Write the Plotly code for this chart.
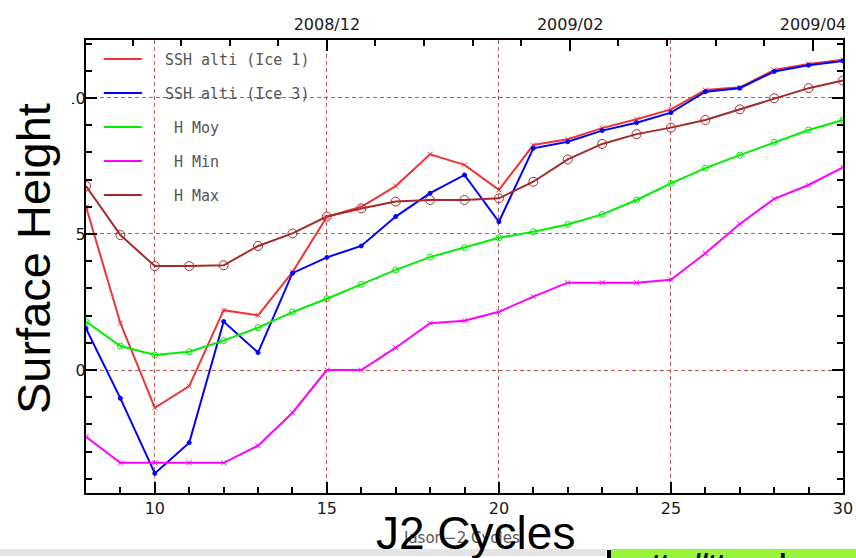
import plotly.graph_objects as go

cycles = list(range(8, 31))
ssh_ice1 = [6.0, 1.72, -1.39, -0.59, 2.2, 2.01, 3.6, 5.63, 6.0, 6.76, 7.93, 7.54, 6.62,
            8.27, 8.48, 8.89, 9.22, 9.58, 10.29, 10.39, 11.03, 11.25, 11.40]
ssh_ice3 = [1.53, -1.04, -3.80, -2.67, 1.78, 0.64, 3.56, 4.14, 4.56, 5.64, 6.5, 7.17, 5.45,
            8.15, 8.39, 8.8, 9.09, 9.46, 10.23, 10.36, 10.97, 11.2, 11.36]
h_moy = [1.78, 0.88, 0.55, 0.67, 1.08, 1.56, 2.13, 2.62, 3.15, 3.68, 4.15, 4.5, 4.86,
         5.08, 5.35, 5.72, 6.25, 6.86, 7.42, 7.9, 8.37, 8.82, 9.19]
h_min = [-2.45, -3.41, -3.41, -3.41, -3.41, -2.78, -1.57, 0.0, 0.0, 0.82, 1.72, 1.81, 2.14,
         2.7, 3.21, 3.21, 3.21, 3.32, 4.29, 5.37, 6.29, 6.8, 7.45]
h_max = [6.76, 4.96, 3.82, 3.82, 3.85, 4.56, 5.02, 5.64, 5.94, 6.19, 6.25, 6.25, 6.31,
         6.92, 7.74, 8.31, 8.67, 8.91, 9.19, 9.58, 9.99, 10.36, 10.64]

NB = "\u00a0"
series_names = [NB * 2 + "SSH alti (Ice 1)", NB * 2 + "SSH alti (Ice 3)",
                NB * 3 + "H Moy", NB * 3 + "H Min", NB * 3 + "H Max"]
series_values = [ssh_ice1, ssh_ice3, h_moy, h_min, h_max]
series_colors = ["#ee3535", "#0000ff", "#00ee00", "#ff00ff", "#a52a2a"]
marker_symbols = ["x-thin", "circle", "circle-open", "x-thin", "circle-open"]
marker_sizes = [5, 4, 6, 5, 9]

y_tickvals = [0, 5, 10]
y_ticktext = ["0", "5", "10"]
top_tickvals = [15, 22.07, 29.13]
top_ticktext = ["2008/12", "2009/02", "2009/04"]

fig = go.Figure()
for name, vals, col, sym, sz in zip(series_names, series_values, series_colors,
                                     marker_symbols, marker_sizes):
    fig.add_trace(go.Scatter(
        x=cycles, y=vals, mode="lines", name=name, legendgroup=name,
        line=dict(color=col, width=2), xaxis="x", yaxis="y"))
    fig.add_trace(go.Scatter(
        x=cycles, y=vals, mode="markers", showlegend=False, legendgroup=name,
        marker=dict(symbol=sym, size=sz, color=col,
                    line=dict(color=col, width=1)),
        xaxis="x2", yaxis="y"))

axis_font = dict(family="DejaVu Sans", size=16, color="#1a1a1a")
grid_col = "#c05a5a"
grid_dash = "4px,3px"

fig.update_layout(
    width=856, height=558,
    margin=dict(l=86, r=13, t=40, b=65, autoexpand=False),
    paper_bgcolor="white", plot_bgcolor="white",
    showlegend=True,
    legend=dict(x=0.017, y=0.994, xanchor="left", yanchor="top",
                bgcolor="rgba(0,0,0,0)", borderwidth=0,
                font=dict(family="DejaVu Sans Mono", size=15, color="#555555"),
                traceorder="grouped", tracegroupgap=11.5, itemwidth=38),
    xaxis=dict(range=[8, 30], tick0=0, dtick=5, ticks="inside", ticklen=11,
               tickwidth=1.5, tickcolor="black", automargin=False,
               showline=True, linecolor="black", linewidth=2, mirror=True,
               showgrid=True, gridcolor=grid_col, griddash=grid_dash, gridwidth=1,
               zeroline=False, tickfont=axis_font,
               minor=dict(ticks="inside", dtick=1, ticklen=6, tickcolor="black",
                          showgrid=False)),
    xaxis2=dict(range=[8, 30], overlaying="x", side="top", anchor="y",
                tickmode="array", tickvals=top_tickvals, ticktext=top_ticktext,
                ticks="inside", ticklen=11, tickwidth=1.5, tickcolor="black",
                showgrid=False, zeroline=False, showline=False, automargin=False,
                tickfont=axis_font, ticklabelstandoff=6,
                minor=dict(ticks="inside", tick0=15, dtick=1.412, ticklen=6,
                           tickcolor="black", showgrid=False)),
    yaxis=dict(range=[-4.52, 12.13], tickmode="array", tickvals=y_tickvals,
               ticktext=y_ticktext, ticks="inside", ticklen=11, tickwidth=1.5,
               tickcolor="black", automargin=False, ticklabelstandoff=-5,
               showline=True, linecolor="black", linewidth=2, mirror="ticks",
               showgrid=True, gridcolor=grid_col, griddash=grid_dash, gridwidth=1,
               zeroline=False, tickfont=axis_font,
               minor=dict(ticks="inside", dtick=1, tick0=0, ticklen=6,
                          tickcolor="black", showgrid=False)),
)

def px_x(px):
    return (px - 86) / 757.0

def px_y(py):
    return (493 - py) / 453.0

shapes = [
    # white panel behind the big vertical title (clips the tick labels)
    dict(type="rect", xref="paper", yref="paper", x0=px_x(0), x1=px_x(72),
         y0=px_y(493), y1=px_y(40), fillcolor="white", line=dict(width=0),
         layer="above"),
    # grey swoosh at the bottom of the slide
    dict(type="rect", xref="paper", yref="paper", x0=px_x(0), x1=px_x(606),
         y0=px_y(556), y1=px_y(549), fillcolor="#e4e4e4", line=dict(width=0),
         layer="above"),
    # black bar and green banner
    dict(type="rect", xref="paper", yref="paper", x0=px_x(607), x1=px_x(611),
         y0=px_y(560), y1=px_y(550), fillcolor="black", line=dict(width=0),
         layer="above"),
    dict(type="rect", xref="paper", yref="paper", x0=px_x(611), x1=px_x(860),
         y0=px_y(560), y1=px_y(549), fillcolor="#98f53c", line=dict(width=0),
         layer="above"),
]
fig.update_layout(shapes=shapes)

annotations = [
    dict(text="Jason\u22122 Cycles", xref="paper", yref="paper",
         x=px_x(461), y=px_y(538), xanchor="center", yanchor="middle", showarrow=False,
         font=dict(family="DejaVu Sans", size=15, color="#555555")),
    dict(text="Surface Height", xref="paper", yref="paper",
         x=px_x(33), y=px_y(259), xanchor="center", yanchor="middle",
         textangle=-90, showarrow=False,
         font=dict(family="Liberation Sans", size=47, color="black")),
    dict(text="J2 Cycles", xref="paper", yref="paper",
         x=px_x(475), y=px_y(533), xanchor="center", yanchor="middle", showarrow=False,
         font=dict(family="Liberation Sans", size=46, color="black")),
    dict(text="<b>ttp://ttpsedr.cnes.fr</b>", xref="paper", yref="paper",
         x=px_x(650), y=px_y(546), xanchor="left", yanchor="top", showarrow=False,
         font=dict(family="Liberation Sans", size=26, color="black")),
]
fig.update_layout(annotations=annotations)

fig.write_html(
    "out.html",
    config={"displayModeBar": False},
    post_script="document.body.style.margin='0';document.body.style.overflow='hidden';",
)
